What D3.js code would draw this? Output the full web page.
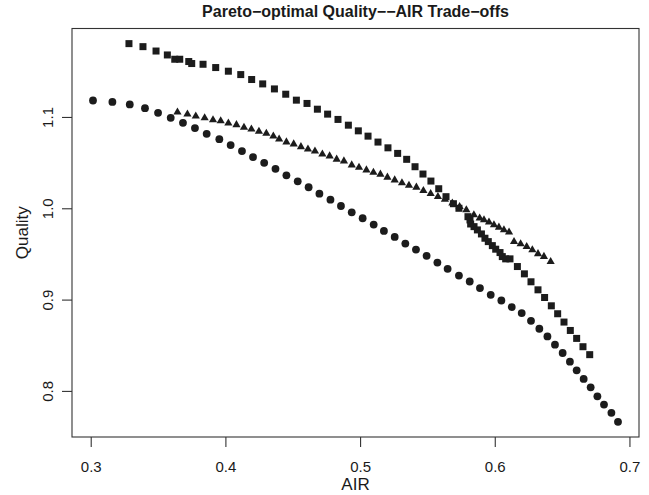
<!DOCTYPE html>
<html>
<head>
<meta charset="utf-8">
<script src="https://cdn.jsdelivr.net/npm/d3@7"></script>
<style>
  html, body { margin: 0; padding: 0; background: #fff; }
  svg text { font-family: "Liberation Sans", Arial, Helvetica, sans-serif; fill: #1a1a1a; }
</style>
</head>
<body>
<svg id="chart" width="649" height="495"></svg>
<script>
// ---- Data ----
const circleAIR = [0.3017,0.3161,0.3290,0.3403,0.3500,0.3594,0.3685,0.3774,0.3861,0.3955,0.4039,0.4123,0.4205,0.4288,0.4372,0.4453,0.4537,0.4618,0.4698,0.4780,0.4858,0.4938,0.5019,0.5101,0.5177,0.5257,0.5336,0.5415,0.5494,0.5574,0.5650,0.5734,0.5814,0.5890,0.5970,0.6049,0.6126,0.6200,0.6269,0.6331,0.6391,0.6447,0.6504,0.6558,0.6608,0.6660,0.6712,0.6762,0.6811,0.6866,0.6915];
const circleQuality = [1.1180,1.1165,1.1137,1.1096,1.1045,1.0990,1.0936,1.0878,1.0815,1.0757,1.0692,1.0626,1.0561,1.0498,1.0432,1.0361,1.0295,1.0230,1.0160,1.0094,1.0025,0.9956,0.9891,0.9821,0.9752,0.9686,0.9613,0.9548,0.9479,0.9405,0.9337,0.9263,0.9198,0.9126,0.9052,0.8990,0.8918,0.8852,0.8768,0.8681,0.8597,0.8506,0.8415,0.8320,0.8225,0.8131,0.8039,0.7941,0.7850,0.7760,0.7661];

const squareAIR = [0.3284,0.3388,0.3485,0.3569,0.3624,0.3661,0.3728,0.3750,0.3834,0.3928,0.4022,0.4114,0.4195,0.4277,0.4364,0.4448,0.4527,0.4606,0.4683,0.4759,0.4836,0.4913,0.4987,0.5059,0.5133,0.5207,0.5279,0.5346,0.5408,0.5467,0.5526,0.5584,0.5638,0.5693,0.5734,0.5801,0.5816,0.5821,0.5846,0.5871,0.5901,0.5927,0.5952,0.5982,0.6007,0.6039,0.6056,0.6081,0.6113,0.6168,0.6220,0.6269,0.6321,0.6370,0.6420,0.6467,0.6514,0.6561,0.6608,0.6655,0.6705];
const squareQuality = [1.1803,1.1770,1.1722,1.1679,1.1632,1.1632,1.1607,1.1585,1.1577,1.1541,1.1501,1.1464,1.1410,1.1362,1.1307,1.1249,1.1184,1.1148,1.1085,1.1031,1.0973,1.0910,1.0848,1.0790,1.0725,1.0662,1.0601,1.0536,1.0455,1.0375,1.0298,1.0214,1.0127,1.0050,1.0000,0.9908,0.9872,0.9828,0.9799,0.9763,0.9719,0.9672,0.9635,0.9591,0.9552,0.9515,0.9471,0.9446,0.9446,0.9362,0.9282,0.9195,0.9107,0.9023,0.8932,0.8845,0.8754,0.8662,0.8575,0.8484,0.8397];

const triangleAIR = [0.3644,0.3718,0.3780,0.3846,0.3908,0.3965,0.4022,0.4082,0.4138,0.4193,0.4249,0.4304,0.4356,0.4399,0.4453,0.4507,0.4561,0.4613,0.4665,0.4720,0.4774,0.4826,0.4880,0.4938,0.4992,0.5047,0.5099,0.5151,0.5203,0.5257,0.5311,0.5363,0.5418,0.5470,0.5524,0.5578,0.5630,0.5685,0.5739,0.5789,0.5845,0.5888,0.5920,0.5957,0.5994,0.6031,0.6068,0.6106,0.6143,0.6192,0.6237,0.6279,0.6321,0.6365,0.6415];
const triangleQuality = [1.1052,1.1031,1.1009,1.0990,1.0968,1.0957,1.0932,1.0914,1.0885,1.0867,1.0841,1.0820,1.0790,1.0757,1.0725,1.0703,1.0673,1.0648,1.0626,1.0593,1.0572,1.0536,1.0517,1.0473,1.0448,1.0419,1.0393,1.0372,1.0339,1.0309,1.0277,1.0251,1.0230,1.0192,1.0160,1.0127,1.0098,1.0055,1.0017,0.9981,0.9927,0.9891,0.9872,0.9847,0.9817,0.9792,0.9763,0.9738,0.9635,0.9610,0.9580,0.9544,0.9501,0.9471,0.9416];

const xTicks = [0.3, 0.4, 0.5, 0.6, 0.7];
const yTicks = [0.8, 0.9, 1.0, 1.1];
const titleText = "Pareto\u2212optimal Quality\u2212\u2212AIR Trade\u2212offs";
const xLabel = "AIR";
const yLabel = "Quality";

(function () {
// ---- Layout ----
const mLeft = 72, mRight = 639, mTop = 28.5, mBottom = 437;
const ink = "#1c1c1c";

const allX = circleAIR.concat(squareAIR, triangleAIR);
const allY = circleQuality.concat(squareQuality, triangleQuality);
function padExt(arr) {
  const e = d3.extent(arr), p = (e[1] - e[0]) * 0.04;
  return [e[0] - p, e[1] + p];
}
const x = d3.scaleLinear().domain(padExt(allX)).range([mLeft, mRight]);
const y = d3.scaleLinear().domain(padExt(allY)).range([mBottom, mTop]);

const svg = d3.select("#chart");

// Plot box
svg.append("rect")
  .attr("x", mLeft).attr("y", mTop)
  .attr("width", mRight - mLeft).attr("height", mBottom - mTop)
  .attr("fill", "none").attr("stroke", "#333").attr("stroke-width", 1.1);

// Axes
const xAxis = d3.axisBottom(x).tickValues(xTicks).tickSize(10).tickPadding(14)
  .tickFormat(d3.format(".1f"));
const gx = svg.append("g").attr("transform", `translate(0,${mBottom})`).call(xAxis);
gx.select(".domain").remove();
gx.selectAll(".tick line").attr("stroke", "#333").attr("stroke-width", 1.1);
gx.selectAll(".tick text").attr("font-size", 15).attr("fill", ink)
  .attr("font-family", "Liberation Sans, Arial, sans-serif");

const yAxis = d3.axisLeft(y).tickValues(yTicks).tickSize(10).tickPadding(0)
  .tickFormat(d3.format(".1f"));
const gy = svg.append("g").attr("transform", `translate(${mLeft},0)`).call(yAxis);
gy.select(".domain").remove();
gy.selectAll(".tick line").attr("stroke", "#333").attr("stroke-width", 1.1);
gy.selectAll(".tick text")
  .attr("font-size", 15).attr("fill", ink)
  .attr("font-family", "Liberation Sans, Arial, sans-serif")
  .attr("x", 0)
  .attr("text-anchor", "middle")
  .attr("transform", "translate(-24.5,0) rotate(-90)")
  .attr("dy", "0.35em");

// Title & labels
svg.append("text").attr("x", (mLeft + mRight) / 2).attr("y", 11.5)
  .attr("text-anchor", "middle").attr("dominant-baseline", "central")
  .attr("font-size", 16).attr("font-weight", "bold").text(titleText);
svg.append("text").attr("x", (mLeft + mRight) / 2).attr("y", 484)
  .attr("text-anchor", "middle").attr("dominant-baseline", "central")
  .attr("font-size", 17).text(xLabel);
svg.append("text")
  .attr("transform", `translate(22,${(mTop + mBottom) / 2}) rotate(-90)`)
  .attr("text-anchor", "middle").attr("dominant-baseline", "central")
  .attr("font-size", 17).text(yLabel);

// Points
const circles = circleAIR.map((v, i) => [v, circleQuality[i]]);
const squares = squareAIR.map((v, i) => [v, squareQuality[i]]);
const triangles = triangleAIR.map((v, i) => [v, triangleQuality[i]]);

svg.append("g").selectAll("circle").data(circles).join("circle")
  .attr("cx", d => x(d[0])).attr("cy", d => y(d[1])).attr("r", 3.9).attr("fill", ink);

const sq = 7;
svg.append("g").selectAll("rect").data(squares).join("rect")
  .attr("x", d => x(d[0]) - sq / 2).attr("y", d => y(d[1]) - sq / 2)
  .attr("width", sq).attr("height", sq).attr("fill", ink);

const tri = d3.symbol().type(d3.symbolTriangle).size(29);
svg.append("g").selectAll("path").data(triangles).join("path")
  .attr("transform", d => `translate(${x(d[0])},${y(d[1])})`)
  .attr("d", tri).attr("fill", ink);
})();
</script>
</body>
</html>
